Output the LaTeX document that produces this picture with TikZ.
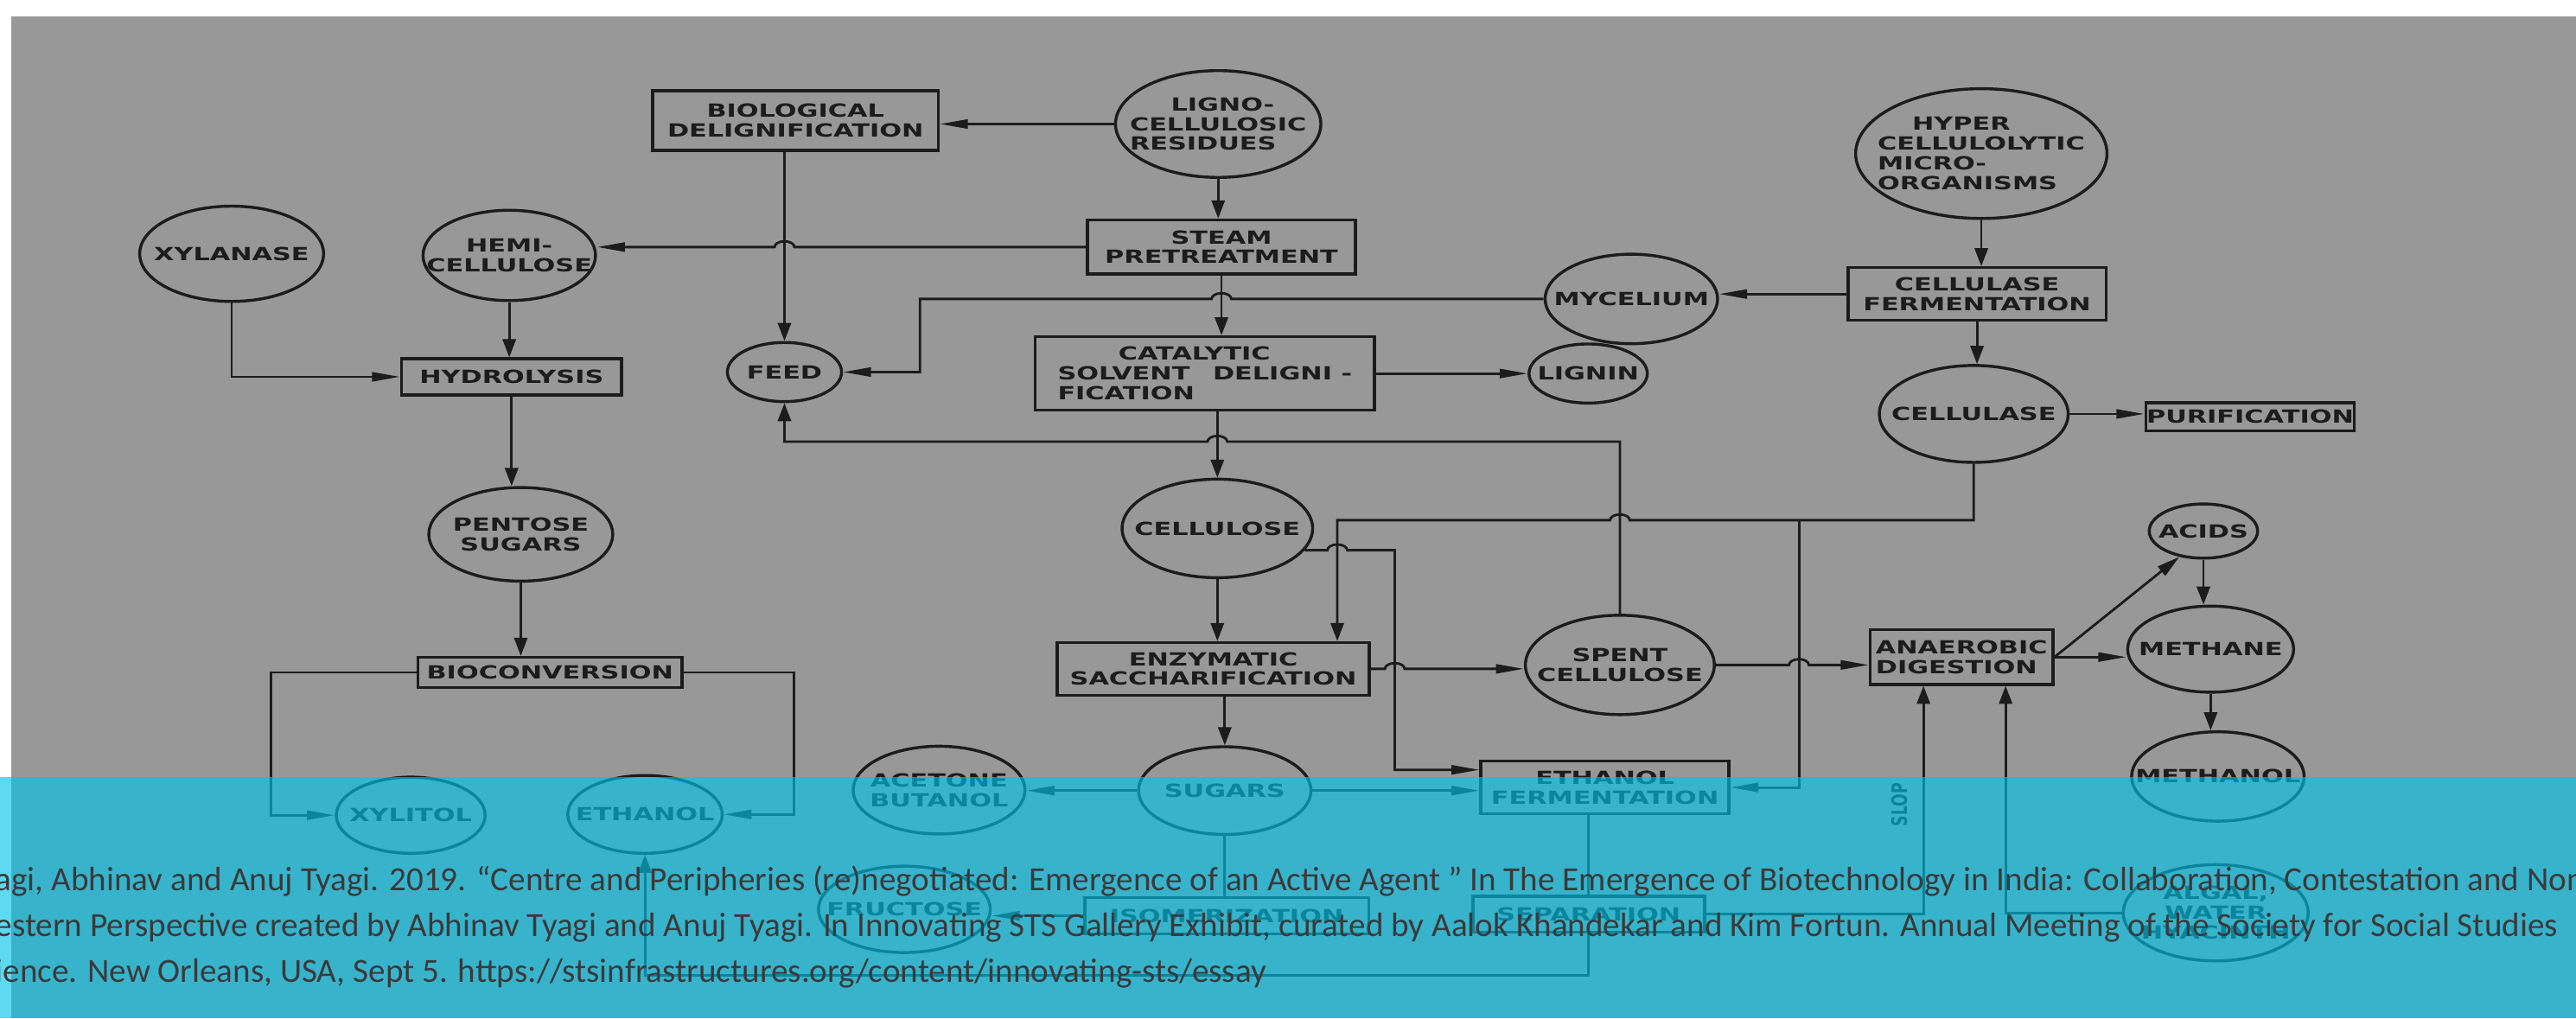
\documentclass[tikz,border=0pt]{standalone}
\usepackage{fontspec}
\setmainfont{Carlito}
\newfontfamily\letterfont{DejaVu Sans}[FakeStretch=1.45]
\newfontfamily\slopfont{DejaVu Sans}[FakeStretch=0.7]
\newfontfamily\capfont{Carlito}
\usetikzlibrary{shapes.geometric, arrows.meta, calc}

\definecolor{paper}{RGB}{152,152,152}
\definecolor{inkc}{RGB}{28,28,28}
\definecolor{bandc}{RGB}{0,195,235}
\definecolor{capc}{RGB}{58,58,58}

\newcommand{\lettering}{\letterfont\bfseries\fontsize{11}{12}\selectfont}

\tikzset{
  ink/.style={draw=inkc, line width=1.8pt},
  blob/.style={ellipse, ink, inner sep=-30pt, font=\lettering, text=inkc, align=center},
  slab/.style={rectangle, ink, inner sep=-30pt, font=\lettering, text=inkc, align=center},
  link/.style={draw=inkc, line width=1.5pt},
  flowh/.style={link, -{Triangle[length=17pt,width=5.5pt]}},
  flowv/.style={link, -{Triangle[length=11pt,width=8pt]}},
  flowd/.style={link, -{Triangle[length=14pt,width=7pt]}},
  caption/.style={font=\capfont\fontsize{20.6}{22}\selectfont, text=capc, inner sep=0pt, anchor=base west},
}

\begin{document}
\begin{tikzpicture}[x=1pt, y=-1pt]
    \useasboundingbox (0,0) rectangle (1568,620);
    \fill[white] (0,0) rectangle (1568,620);
    \fill[paper] (6.7,10) rectangle (1568,620);

    \node[slab, minimum width=174, minimum height=36.5] (bio) at (484.2,73.4) {BIOLOGICAL\\DELIGNIFICATION};
    \node[blob, minimum width=125, minimum height=65, align=left] (ligno) at (741.5,75.5) {\hspace*{25pt}LIGNO-\\CELLULOSIC\\RESIDUES};
    \node[blob, minimum width=153, minimum height=79, align=left] (hyper) at (1206,93.5) {\hspace*{21pt}HYPER\\CELLULOLYTIC\\MICRO-\\ORGANISMS};
    \node[blob, minimum width=112, minimum height=58] (xyl) at (141,154.5) {XYLANASE};
    \node[blob, minimum width=105, minimum height=55] (hemi) at (310,155.5) {HEMI-\\CELLULOSE};
    \node[slab, minimum width=163, minimum height=33] (steam) at (743.5,150.4) {STEAM\\PRETREATMENT};
    \node[blob, minimum width=105, minimum height=54.5] (myc) at (993,182) {MYCELIUM};
    \node[slab, minimum width=157, minimum height=32] (cfer) at (1203.4,179) {CELLULASE\\FERMENTATION};
    \node[slab, minimum width=134, minimum height=22] (hydro) at (311.4,229.4) {HYDROLYSIS};
    \node[blob, minimum width=69.5, minimum height=36] (feed) at (477.5,226.5) {FEED};
    \node[slab, minimum width=206.5, minimum height=44.7, align=left] (cat) at (733.4,227.4) {\hspace*{37pt}CATALYTIC\\SOLVENT\hspace{14pt}DELIGNI~-\\FICATION};
    \node[blob, minimum width=72, minimum height=36] (lignin) at (966.7,227.4) {LIGNIN};
    \node[blob, minimum width=115, minimum height=59] (cellulase) at (1201.4,252) {CELLULASE};
    \node[slab, minimum width=127, minimum height=17] (purif) at (1369.6,253.8) {PURIFICATION};
    \node[blob, minimum width=112, minimum height=57] (pentose) at (317,325.3) {PENTOSE\\SUGARS};
    \node[blob, minimum width=116, minimum height=60] (cellulose) at (741,321.7) {CELLULOSE};
    \node[blob, minimum width=66, minimum height=33] (acids) at (1341.2,323.3) {ACIDS};
    \node[slab, minimum width=190, minimum height=32] (enz) at (738.5,407.2) {ENZYMATIC\\SACCHARIFICATION};
    \node[blob, minimum width=115, minimum height=60.5] (spent) at (986,404.8) {SPENT\\CELLULOSE};
    \node[slab, minimum width=111.3, minimum height=33.3, align=left] (anaer) at (1194,400) {ANAEROBIC\\DIGESTION};
    \node[blob, minimum width=101, minimum height=52.4] (methane) at (1345.6,395.2) {METHANE};
    \node[slab, minimum width=160.7, minimum height=18.4] (biocon) at (334.8,409.4) {BIOCONVERSION};
    \node[blob, minimum width=90.6, minimum height=46.4] (xylitol) at (250,496.3) {XYLITOL};
    \node[blob, minimum width=94, minimum height=47.4] (ethL) at (392.6,495.8) {ETHANOL};
    \node[blob, minimum width=104.6, minimum height=53.4] (acet) at (571.6,481) {ACETONE\\BUTANOL};
    \node[blob, minimum width=105, minimum height=53.4] (sugars) at (745.5,481.3) {SUGARS};
    \node[slab, minimum width=151, minimum height=32] (efer) at (976.9,479.4) {ETHANOL\\FERMENTATION};
    \node[blob, minimum width=105, minimum height=54.4] (methanol) at (1350,472.7) {METHANOL};
    \node[blob, minimum width=104.6, minimum height=52.6] (fruct) at (550.5,553.6) {FRUCTOSE};
    \node[slab, minimum width=172.7, minimum height=21.9] (isom) at (746.7,557.5) {ISOMERIZATION};
    \node[slab, minimum width=141, minimum height=21.9] (sep) at (967,556.6) {SEPARATION};
    \node[blob, minimum width=112.6, minimum height=58.6] (algal) at (1348.7,555.7) {ALGAL,\\WATER\\HYACINTH};
    \node[font=\slopfont\bfseries\fontsize{13}{13}\selectfont, text=inkc, rotate=90] (slop) at (1156,490) {SLOP};

    \coordinate (feedturn) at (560,183);
    \coordinate (loopy) at (741,268.9);
    \coordinate (jn) at (1095,316.7);
    \coordinate (dropA) at (814,316.7);
    \coordinate (dropB) at (849,334.7);
    \coordinate (loopB) at (967,594);
    \coordinate (bcL) at (165,409.4);
    \coordinate (bcR) at (483.3,409.4);
    \coordinate (slopx) at (1170.8,556.6);
    \coordinate (algx) at (1220.8,557.5);

    \draw[flowh] (ligno.west) -- (ligno.west -| bio.east);
    \draw[flowv] (ligno.south) -- (ligno.south |- steam.north);
    \draw[flowh] (steam.west) -- ($(steam.west -| feed.north)+(6,0)$) arc[start angle=0, end angle=-180, x radius=6, y radius=3.5] -- (steam.west -| hemi.east);
    \draw[flowv] (bio.south -| feed.north) -- (feed.north);
    \draw[flowh] (xyl.south) |- (hydro.west);
    \draw[flowv] (hemi.south) -- (hemi.south |- hydro.north);
    \draw[flowv] (hydro.south) -- (hydro.south |- pentose.north);
    \draw[flowv] (pentose.south) -- (pentose.south |- biocon.north);
    \draw[flowh] (biocon.west) -| (bcL |- xylitol.west) -- (xylitol.west);
    \draw[flowh] (biocon.east) -| (bcR |- ethL.east) -- (ethL.east);

    \draw[flowv] (steam.south) -- (steam.south |- cat.north);
    \draw[flowh] (myc.west) -- ($(myc.west -| steam.south)+(6,0)$) arc[start angle=0, end angle=-180, x radius=6, y radius=3.5] -- (myc.west -| feedturn) |- (feed.east);
    \draw[flowh] (cfer.west) -- (cfer.west -| myc.east);
    \draw[flowv] (hyper.south) -- (hyper.south |- cfer.north);
    \draw[flowv] (cfer.south) -- (cfer.south |- cellulase.north);
    \draw[flowh] (cellulase.east) -- (cellulase.east -| purif.west);
    \draw[flowh] (cat.east) -- (cat.east -| lignin.west);
    \draw[flowv] (cellulose.north |- cat.south) -- (cellulose.north);
    \draw[flowv] (spent.north) -- (spent.north |- loopy) -- ($(loopy)+(6,0)$) arc[start angle=0, end angle=-180, x radius=6, y radius=3.5] -- (loopy -| feed.south) -- (feed.south);

    \draw[flowv] (cellulase.south) |- ($(spent.north |- jn)+(6,0)$) arc[start angle=0, end angle=-180, x radius=6, y radius=3.5] -- (dropA) -- (dropA |- enz.north);
    \draw[flowh] (jn) |- (efer.east);
    \draw[flowh] (cellulose.-14) -- ($(cellulose.-14 -| dropA)+(-6,0)$) arc[start angle=180, end angle=360, x radius=6, y radius=3.5] -- (cellulose.-14 -| dropB) |- (efer.172);
    \draw[flowv] (cellulose.south) -- (cellulose.south |- enz.north);
    \draw[flowh] (enz.east) -- ($(enz.east -| dropB)+(-6,0)$) arc[start angle=180, end angle=360, x radius=6, y radius=3.5] -- (enz.east -| spent.west);
    \draw[flowh] (spent.east) -- ($(spent.east -| jn)+(-6,0)$) arc[start angle=180, end angle=360, x radius=6, y radius=3.5] -- (spent.east -| anaer.west);

    \draw[flowv] (enz.south -| sugars.north) -- (sugars.north);
    \draw[flowh] (sugars.west) -- (sugars.west -| acet.east);
    \draw[flowh] (sugars.east) -- (sugars.east -| efer.west);
    \draw[link] (sugars.south) -- (sugars.south |- isom.north);
    \draw[flowh] (isom.west) -- (isom.west -| fruct.east);
    \draw[link] (sep.north |- efer.south) -- (sep.north);
    \draw[flowv] (sep.south) -- (loopB) -| (ethL.south);
    \draw[flowv] (sep.east) -| (slopx |- anaer.south);
    \draw[flowv] (algal.west) -| (algx |- anaer.south);
    \draw[flowh] (anaer.east) -- (anaer.east -| methane.west);
    \draw[flowd] (anaer.east) -- (acids.-133);
    \draw[flowv] (acids.south) -- (acids.south |- methane.north);
    \draw[flowv] (methane.south) -- (methane.south |- methanol.north);

    \fill[bandc, opacity=0.63] (0,473) rectangle (1568,620);
    \begin{scope}
        \clip (0,473) rectangle (1568,620);
        \node[caption] (cap1) at (-3,542) {agi, Abhinav and Anuj Tyagi. 2019. “Centre and Peripheries (re)negotiated: Emergence of an Active Agent ” In The Emergence of Biotechnology in India: Collaboration, Contestation and Non};
        \node[caption] (cap2) at (-3,570) {estern Perspective created by Abhinav Tyagi and Anuj Tyagi. In Innovating STS Gallery Exhibit, curated by Aalok Khandekar and Kim Fortun. Annual Meeting of the Society for Social Studies};
        \node[caption] (cap3) at (-3,598) {ience. New Orleans, USA, Sept 5. https://stsinfrastructures.org/content/innovating-sts/essay};
    \end{scope}
\end{tikzpicture}
\end{document}
